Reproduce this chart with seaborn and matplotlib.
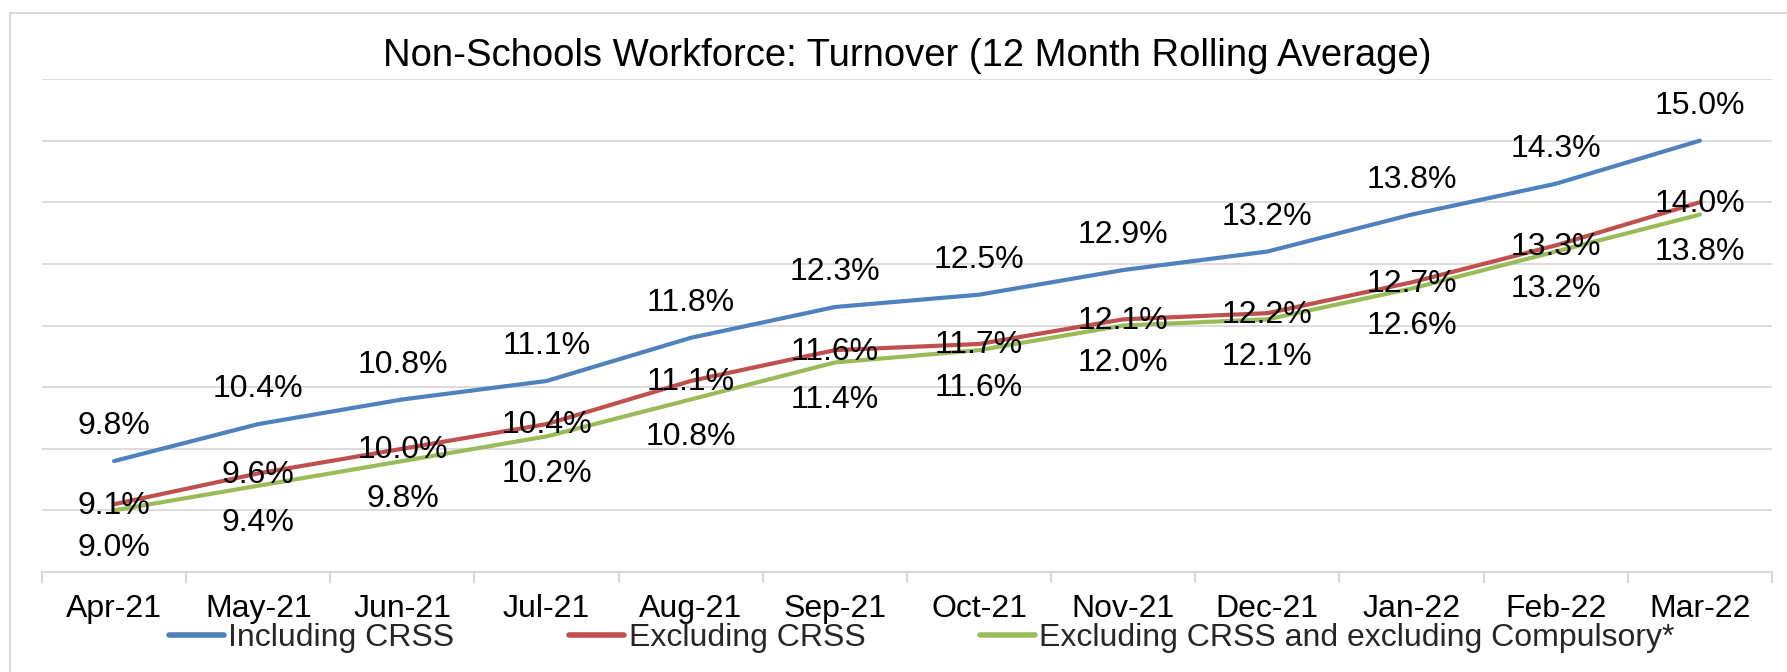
import numpy as np
import pandas as pd
import matplotlib
matplotlib.use("Agg")
import matplotlib.pyplot as plt
from matplotlib.lines import Line2D
from matplotlib.patches import Rectangle
import seaborn as sns

months = ["Apr-21", "May-21", "Jun-21", "Jul-21", "Aug-21", "Sep-21",
          "Oct-21", "Nov-21", "Dec-21", "Jan-22", "Feb-22", "Mar-22"]
including_crss = [9.8, 10.4, 10.8, 11.1, 11.8, 12.3, 12.5, 12.9, 13.2, 13.8, 14.3, 15.0]
excluding_crss = [9.1, 9.6, 10.0, 10.4, 11.1, 11.6, 11.7, 12.1, 12.2, 12.7, 13.3, 14.0]
excluding_crss_compulsory = [9.0, 9.4, 9.8, 10.2, 10.8, 11.4, 11.6, 12.0, 12.1, 12.6, 13.2, 13.8]
series_names = ["Including CRSS", "Excluding CRSS",
                "Excluding CRSS and excluding Compulsory*"]
title = "Non-Schools Workforce: Turnover (12 Month Rolling Average)"

colors = ["#4F81BD", "#C0504D", "#9BBB59"]
label_offsets = [25, -1, -27]  # points: above, centre, below

sns.set_theme(style="white")
plt.rcParams['font.family'] = ['Liberation Sans', 'DejaVu Sans']

df = pd.DataFrame({
    "Month": months * 3,
    "Value": including_crss + excluding_crss + excluding_crss_compulsory,
    "Series": np.repeat(series_names, len(months)),
})

W, H = 1787, 672
fig = plt.figure(figsize=(W / 100, H / 100), dpi=100)
ax = fig.add_axes([42 / W, 1 - 572 / H, (1772 - 42) / W, (572 - 79) / H])

sns.lineplot(data=df, x="Month", y="Value", hue="Series", hue_order=series_names,
             palette=colors, linewidth=3.0, ax=ax, sort=False, legend=False)
for ln in ax.get_lines():
    ln.set_solid_capstyle("round")
    ln.set_solid_joinstyle("round")

for vals, off in zip([including_crss, excluding_crss, excluding_crss_compulsory], label_offsets):
    for m, v in zip(months, vals):
        ax.annotate(f"{v:.1f}%", xy=(m, v), xytext=(0, off), textcoords="offset points",
                    ha="center", va="center", fontsize=23, color="black", zorder=5)

ax.set_ylim(8, 16)
ax.set_yticks(range(8, 17))
ax.set_yticklabels([])
ax.yaxis.grid(True, color="#D9D9D9", linewidth=1.3)
ax.xaxis.grid(False)
ax.tick_params(axis="y", length=0)
ax.set_xlim(-0.5, len(months) - 0.5)
ax.set_xticks(range(len(months)))
ax.set_xticklabels(months)
ax.set_xticks(np.arange(-0.5, len(months), 1), minor=True)
ax.tick_params(axis="x", which="major", length=0, pad=16, labelsize=23, labelcolor="black")
ax.tick_params(axis="x", which="minor", length=8, width=1.5, color="#D9D9D9", bottom=True)
ax.set_xlabel("")
ax.set_ylabel("")
for s in ["left", "right", "top"]:
    ax.spines[s].set_visible(False)
ax.spines["bottom"].set_color("#D9D9D9")
ax.spines["bottom"].set_linewidth(1.5)

fig.text(907 / W, 1 - 56 / H, title, ha="center", va="center", fontsize=27.5, color="black")

handles = [Line2D([0], [0], color=c, lw=4, solid_capstyle="round") for c in colors]
fig.legend(handles, series_names, loc="center", bbox_to_anchor=(922 / W, 1 - 638 / H),
           ncol=3, frameon=False, fontsize=23, handlelength=1.7, handletextpad=0.15,
           columnspacing=3.6, borderpad=0, borderaxespad=0)

fig.add_artist(Rectangle((10 / W, -0.5), 2, 0.5 + (1 - 13 / H), transform=fig.transFigure,
                         fill=False, edgecolor="#D9D9D9", linewidth=1.5))

fig.savefig("out.png", dpi=100)
